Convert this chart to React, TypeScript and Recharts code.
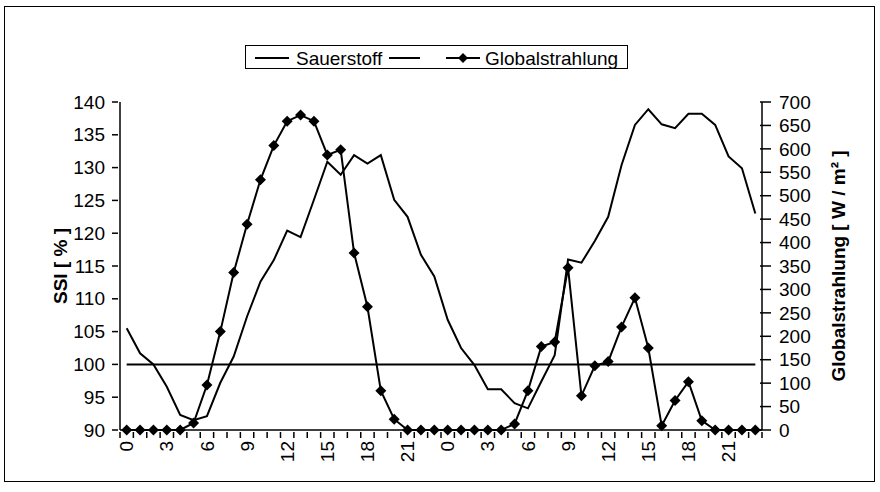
import React from 'react';
import { LineChart, Line, XAxis, YAxis, Legend } from 'recharts';

const hours = [
  0, 1, 2, 3, 4, 5, 6, 7, 8, 9, 10, 11, 12, 13, 14, 15, 16, 17, 18, 19, 20, 21, 22, 23,
  0, 1, 2, 3, 4, 5, 6, 7, 8, 9, 10, 11, 12, 13, 14, 15, 16, 17, 18, 19, 20, 21, 22, 23,
];
const sauerstoff = [
  105.5, 101.7, 100.0, 96.6, 92.3, 91.5, 92.1, 97.2, 101.2, 107.3, 112.6, 115.9,
  120.4, 119.4, 125.1, 130.9, 128.9, 131.9, 130.6, 131.9, 125.1, 122.5, 116.7, 113.4,
  106.8, 102.5, 99.9, 96.2, 96.2, 94.1, 93.3, 97.4, 101.4, 116.0, 115.5, 118.8,
  122.5, 130.4, 136.5, 138.9, 136.6, 136.0, 138.2, 138.2, 136.5, 131.7, 129.9, 123.0,
];
const globalstrahlung = [
  0, 0, 0, 0, 0, 15, 96, 210, 336, 439, 534, 607,
  659, 672, 659, 587, 598, 378, 263, 84, 23, 0, 0, 0,
  0, 0, 0, 0, 0, 13, 84, 178, 188, 346, 73, 137,
  146, 220, 282, 175, 9, 63, 103, 20, 0, 0, 0, 0,
];
const grenzwert = [
  100, 100, 100, 100, 100, 100, 100, 100, 100, 100, 100, 100,
  100, 100, 100, 100, 100, 100, 100, 100, 100, 100, 100, 100,
  100, 100, 100, 100, 100, 100, 100, 100, 100, 100, 100, 100,
  100, 100, 100, 100, 100, 100, 100, 100, 100, 100, 100, 100,
];
const leftTicks = [90, 95, 100, 105, 110, 115, 120, 125, 130, 135, 140];
const rightTicks = [0, 50, 100, 150, 200, 250, 300, 350, 400, 450, 500, 550, 600, 650, 700];
const labeledHours = [0, 3, 6, 9, 12, 15, 18, 21];

const data = hours.map((h, i) => ({
  idx: i,
  hour: h,
  sauerstoff: sauerstoff[i],
  global: globalstrahlung[i],
  grenz: grenzwert[i],
}));

const FONT = '"Liberation Sans", Arial, Helvetica, sans-serif';
const FS = 19;
const HALF_BAND = 642 / 48 / 2;

const Diamond = (props: any) => {
  const { cx, cy } = props;
  if (cx == null || cy == null) return null;
  const r = 5.5;
  return <path d={`M${cx},${cy - r}L${cx + r},${cy}L${cx},${cy + r}L${cx - r},${cy}Z`} fill="#000" stroke="none" />;
};

const XTick = (props: any) => {
  const { x, y, payload } = props;
  const i = payload.index ?? props.index ?? 0;
  const h = hours[i];
  const show = labeledHours.includes(h);
  return (
    <g>
      <line x1={x - HALF_BAND} x2={x - HALF_BAND} y1={y} y2={y + 6} stroke="#000" strokeWidth={1.5} />
      {i === hours.length - 1 && (
        <line x1={x + HALF_BAND} x2={x + HALF_BAND} y1={y} y2={y + 6} stroke="#000" strokeWidth={1.5} />
      )}
      {show && (
        <text
          x={x}
          y={y + 9}
          transform={`rotate(-90, ${x}, ${y + 9})`}
          textAnchor="end"
          dy="0.35em"
          fontFamily={FONT}
          fontSize={FS}
          fill="#000"
        >
          {h}
        </text>
      )}
    </g>
  );
};

const LeftTick = (props: any) => {
  const { x, y, payload } = props;
  return (
    <g>
      <line x1={x - 6} x2={x} y1={y} y2={y} stroke="#000" strokeWidth={1.5} />
      <text x={x - 13} y={y} dy="0.35em" textAnchor="end" fontFamily={FONT} fontSize={FS} fill="#000">
        {payload.value}
      </text>
    </g>
  );
};

const RightTick = (props: any) => {
  const { x, y, payload } = props;
  return (
    <g>
      <line x1={x - 4} x2={x + 7} y1={y} y2={y} stroke="#000" strokeWidth={1.5} />
      <text x={x + 15} y={y} dy="0.35em" textAnchor="start" fontFamily={FONT} fontSize={FS} fill="#000">
        {payload.value}
      </text>
    </g>
  );
};

const LeftTitle = (props: any) => {
  const vb = props.viewBox || {};
  const cx = vb.x + 0;
  const cy = vb.y + vb.height / 2;
  return (
    <text
      x={cx}
      y={cy}
      transform={`rotate(-90, ${cx}, ${cy})`}
      textAnchor="middle"
      dy="0.35em"
      fontFamily={FONT}
      fontSize={FS}
      fontWeight="bold"
      fill="#000"
    >
      SSI [ % ]
    </text>
  );
};

const RightTitle = (props: any) => {
  const vb = props.viewBox || {};
  const cx = vb.x + 76;
  const cy = vb.y + vb.height / 2;
  return (
    <text
      x={cx}
      y={cy}
      transform={`rotate(-90, ${cx}, ${cy})`}
      textAnchor="middle"
      dy="0.35em"
      fontFamily={FONT}
      fontSize={FS}
      fontWeight="bold"
      fill="#000"
    >
      Globalstrahlung [ W / m² ]
    </text>
  );
};

const LegendBox = (props: any) => {
  const payload: any[] = props.payload || [];
  const find = (k: string) => payload.find((p) => p.dataKey === k);
  const s = find('sauerstoff');
  const g = find('global');
  return (
    <div
      style={{
        width: 383,
        height: 24,
        border: '1px solid #000',
        boxSizing: 'border-box',
        background: '#fff',
        position: 'relative',
      }}
    >
      <svg width={381} height={22} style={{ position: 'absolute', left: 0, top: 0 }}>
        <line x1={9} x2={43} y1={12} y2={12} stroke="#000" strokeWidth={2} />
        <text x={50} y={12} dy="0.35em" fontFamily={FONT} fontSize={FS} fill="#000">
          {s ? s.value : 'Sauerstoff'}
        </text>
        <line x1={143} x2={174} y1={12} y2={12} stroke="#000" strokeWidth={2} />
        <line x1={200} x2={234} y1={12} y2={12} stroke="#000" strokeWidth={2} />
        <path d="M217,7L222,12L217,17L212,12Z" fill="#000" />
        <text x={239} y={12} dy="0.35em" fontFamily={FONT} fontSize={FS} fill="#000">
          {g ? g.value : 'Globalstrahlung'}
        </text>
      </svg>
    </div>
  );
};

export default function App() {
  return (
    <div style={{ position: 'absolute', left: 0, top: 0, width: 880, height: 492, background: '#fff' }}>
      <div
        style={{
          position: 'absolute',
          left: 4,
          top: 6,
          width: 871,
          height: 476,
          border: '1px solid #000',
          boxSizing: 'border-box',
        }}
      />
      <div style={{ position: 'absolute', left: 0, top: 0 }}>
        <LineChart width={880} height={492} data={data} margin={{ top: 102, right: 38, bottom: 2, left: 60 }}>
          <XAxis
            dataKey="idx"
            type="category"
            interval={0}
            height={60}
            padding={{ left: HALF_BAND, right: HALF_BAND }}
            tickSize={0}
            tickLine={false}
            axisLine={{ stroke: '#000', strokeWidth: 1.5 }}
            tick={<XTick />}
          />
          <YAxis
            yAxisId="left"
            orientation="left"
            width={60}
            domain={[90, 140]}
            ticks={leftTicks}
            interval={0}
            tickSize={0}
            tickLine={false}
            axisLine={{ stroke: '#000', strokeWidth: 1.5 }}
            tick={<LeftTick />}
            label={<LeftTitle />}
          />
          <YAxis
            yAxisId="right"
            orientation="right"
            width={80}
            domain={[0, 700]}
            ticks={rightTicks}
            interval={0}
            tickSize={0}
            tickLine={false}
            axisLine={{ stroke: '#000', strokeWidth: 1.5 }}
            tick={<RightTick />}
            label={<RightTitle />}
          />
          <Legend
            verticalAlign="middle"
            layout="horizontal"
            align="center"
            wrapperStyle={{ top: 45, left: 245, width: 383, height: 24 }}
            content={<LegendBox />}
          />
          <Line
            yAxisId="left"
            dataKey="sauerstoff"
            name="Sauerstoff"
            stroke="#000"
            strokeWidth={2}
            dot={false}
            activeDot={false}
            type="linear"
            isAnimationActive={false}
          />
          <Line
            yAxisId="left"
            dataKey="grenz"
            name=" "
            stroke="#000"
            strokeWidth={2}
            dot={false}
            activeDot={false}
            type="linear"
            isAnimationActive={false}
          />
          <Line
            yAxisId="right"
            dataKey="global"
            name="Globalstrahlung"
            stroke="#000"
            strokeWidth={2}
            dot={<Diamond />}
            activeDot={false}
            type="linear"
            isAnimationActive={false}
          />
        </LineChart>
      </div>
    </div>
  );
}
